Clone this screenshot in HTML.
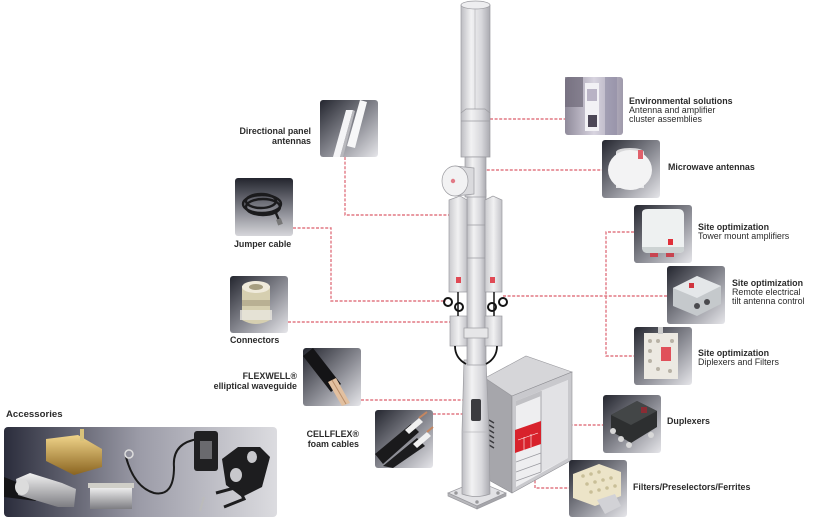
<!DOCTYPE html>
<html><head><meta charset="utf-8">
<style>
html,body{margin:0;padding:0;background:#fff;}
svg{display:block;}
text{font-family:"Liberation Sans",sans-serif;font-size:8.9px;fill:#2b2b2b;}
.b{font-weight:bold;}
</style></head><body>
<svg width="819" height="522" viewBox="0 0 819 522" xmlns="http://www.w3.org/2000/svg">
<defs>
<linearGradient id="tg" x1="0" y1="0" x2="1" y2="1">
<stop offset="0" stop-color="#24262f"/><stop offset="0.55" stop-color="#8c8d95"/><stop offset="1" stop-color="#e6e6ea"/>
</linearGradient>
<linearGradient id="tgv" x1="0" y1="0" x2="0" y2="1">
<stop offset="0" stop-color="#23252e"/><stop offset="0.6" stop-color="#8e8f97"/><stop offset="1" stop-color="#d6d6da"/>
</linearGradient>
<linearGradient id="env" x1="0" y1="0" x2="1" y2="0">
<stop offset="0" stop-color="#8f8a9a"/><stop offset="0.5" stop-color="#d8d4e0"/><stop offset="1" stop-color="#9f9aab"/>
</linearGradient>
<linearGradient id="acc" x1="0" y1="0" x2="1" y2="0">
<stop offset="0" stop-color="#2b2d3c"/><stop offset="0.5" stop-color="#9c9ca8"/><stop offset="1" stop-color="#dcdce0"/>
</linearGradient>
<linearGradient id="pole" x1="0" y1="0" x2="1" y2="0">
<stop offset="0" stop-color="#bdbdc2"/><stop offset="0.35" stop-color="#f2f2f3"/><stop offset="0.7" stop-color="#d8d8dc"/><stop offset="1" stop-color="#aaaab0"/>
</linearGradient>
<linearGradient id="panel" x1="0" y1="0" x2="1" y2="0">
<stop offset="0" stop-color="#cacace"/><stop offset="0.5" stop-color="#f1f1f2"/><stop offset="1" stop-color="#c2c2c7"/>
</linearGradient>
<linearGradient id="gold" x1="0" y1="0" x2="0" y2="1">
<stop offset="0" stop-color="#f0d48a"/><stop offset="1" stop-color="#8a6420"/>
</linearGradient>
<linearGradient id="silver" x1="0" y1="0" x2="0" y2="1">
<stop offset="0" stop-color="#f2f2f2"/><stop offset="1" stop-color="#7d7d82"/>
</linearGradient>
</defs>

<!-- ============ DOTTED CONNECTORS ============ -->
<g fill="none" stroke="#e27884" stroke-width="1.4" stroke-dasharray="3 1.6">
<path d="M345 157 V215 H456"/>
<path d="M293 228 H331 V301 H446"/>
<path d="M288 322 H451"/>
<path d="M361 400 H472"/>
<path d="M433 414 H473"/>
<path d="M490 119 H565"/>
<path d="M473 170 H602"/>
<path d="M503 296 H667"/>
<path d="M634 232 H606 V356 H634"/>
<path d="M542 425 H603"/>
<path d="M535 462 V488 H569"/>
</g>

<!-- ============ CABINET ============ -->
<g>
<polygon points="485,378 512,396 512,493 485,478" fill="#a6a6ab" stroke="#8a8a8f" stroke-width="0.6"/>
<polygon points="485,378 526,356 572,372 512,396" fill="#d6d6d9" stroke="#9a9a9f" stroke-width="0.6"/>
<polygon points="512,396 572,372 572,460 512,493" fill="#c9c9cd" stroke="#8f8f94" stroke-width="0.6"/>
<polygon points="516,401 568,380 568,458 516,487" fill="#eeeef0"/>
<polygon points="541,391 568,380 568,458 541,472" fill="#e2e2e5"/>
<line x1="541" y1="391" x2="541" y2="472" stroke="#a8a8ad" stroke-width="1"/>
<polygon points="516,401 541,391 541,396 516,406" fill="#c0c0c4"/>
<polygon points="515,430 541,421 541,444 515,453" fill="#d8222c"/>
<g stroke="#fff" stroke-width="0.6" fill="none"><line x1="518" y1="440" x2="538" y2="433"/><line x1="524" y1="437" x2="524" y2="450"/><line x1="531" y1="434" x2="531" y2="447"/></g>
<g stroke="#9a9aa0" stroke-width="0.7"><line x1="516" y1="462" x2="541" y2="453"/><line x1="516" y1="472" x2="541" y2="463"/><line x1="516" y1="481" x2="541" y2="472"/></g>
<g stroke="#3a3a3e" stroke-width="1.4"><line x1="489" y1="420" x2="494" y2="423"/><line x1="489" y1="425" x2="494" y2="428"/><line x1="489" y1="430" x2="494" y2="433"/><line x1="489" y1="435" x2="494" y2="438"/><line x1="489" y1="440" x2="494" y2="443"/><line x1="489" y1="445" x2="494" y2="448"/></g>
</g>

<!-- ============ TOWER ============ -->
<g stroke="#9b9ba0" stroke-width="0.7">
<polygon points="448,493 477,481 506,493 477,506" fill="#e2e2e5"/>
<polygon points="448,493 477,506 477,509 448,496" fill="#b8b8bc"/>
<polygon points="477,506 506,493 506,496 477,509" fill="#a5a5aa"/>
<circle cx="456" cy="493" r="1.4" fill="#999"/><circle cx="498" cy="493" r="1.4" fill="#999"/><circle cx="477" cy="502" r="1.4" fill="#999"/>
<path d="M462 432 L464 360 H486 L489 432 L490 494 Q476 499 462 494 Z" fill="url(#pole)"/>
<line x1="462" y1="432" x2="489" y2="432" stroke="#b8b8bc"/>
<rect x="471" y="399" width="10" height="22" rx="2" fill="#3c3c40" stroke="none"/>
<rect x="467" y="190" width="19" height="175" fill="url(#pole)"/>
<line x1="467" y1="225" x2="486" y2="225"/><line x1="467" y1="258" x2="486" y2="258"/>
<rect x="461" y="5" width="29" height="108" fill="url(#pole)"/>
<ellipse cx="475.5" cy="5" rx="14.5" ry="4" fill="#eeeef0"/>
<line x1="475" y1="9" x2="475" y2="112" stroke="#b5b5ba"/>
<path d="M461 113 L466 109 H485 L490 113 V157 H461 Z" fill="url(#pole)"/>
<line x1="461" y1="121" x2="490" y2="121"/>
<rect x="465" y="157" width="21" height="40" fill="url(#pole)"/>
<path d="M455 166 L474 168 L474 194 L455 196 Z" fill="#dadadd"/>
<ellipse cx="455" cy="181" rx="13" ry="15" fill="#f2f2f3"/>
<circle cx="453" cy="181" r="2.2" fill="#e27a86" stroke="none"/>
<polygon points="449,200 460,196 467,200 467,292 449,292" fill="url(#panel)"/>
<polygon points="485,200 493,196 502,200 502,292 485,292" fill="url(#panel)"/>
<rect x="456" y="277" width="5" height="6" fill="#e04a55" stroke="none"/>
<rect x="490" y="277" width="5" height="6" fill="#e04a55" stroke="none"/>
<rect x="450" y="316" width="17" height="30" fill="url(#panel)"/>
<rect x="485" y="316" width="17" height="30" fill="url(#panel)"/>
<rect x="464" y="328" width="24" height="10" fill="#e6e6e8"/>
</g>
<g fill="none" stroke="#141414" stroke-width="2">
<circle cx="448" cy="302" r="4"/><circle cx="459" cy="307" r="4"/>
<circle cx="492" cy="307" r="4"/><circle cx="503" cy="302" r="4"/>
<path d="M458 292 V316 M494 292 V316" stroke-width="1.5"/>
<path d="M455 346 Q455 358 466 364 M497 346 Q497 358 486 364" stroke-width="1.8"/>
</g>

<!-- ============ THUMBNAILS ============ -->
<g transform="translate(320,100)">
<rect width="58" height="57" rx="3" fill="url(#tg)"/>
<polygon points="13,57 20,57 33,10 26,10" fill="#f4f4f6"/>
<polygon points="27,46 35,48 47,2 40,0" fill="#f7f7f8"/>
<polygon points="20,57 23,57 35,11 33,10" fill="#b8b8bd"/>
</g>
<g transform="translate(235,178)">
<rect width="58" height="58" rx="3" fill="url(#tgv)"/>
<g fill="none" stroke="#1b1b1d" stroke-width="2.4">
<ellipse cx="27" cy="26" rx="19" ry="9"/><ellipse cx="28" cy="29" rx="17" ry="8"/><ellipse cx="26" cy="23" rx="15" ry="7"/>
<path d="M40 33 L44 42"/>
</g>
<rect x="42" y="41" width="5" height="6" fill="#777" transform="rotate(-20 44 44)"/>
</g>
<g transform="translate(230,276)">
<rect width="58" height="57" rx="3" fill="url(#tg)"/>
<path d="M12 10 H40 V44 Q26 52 12 44 Z" fill="#d6cfb0"/>
<ellipse cx="26" cy="11" rx="14" ry="6" fill="#efeadb"/>
<ellipse cx="26" cy="11" rx="7" ry="3" fill="#a69e80"/>
<rect x="12" y="24" width="28" height="6" fill="#b9b093"/>
<rect x="10" y="34" width="32" height="10" fill="#e8e6df" opacity="0.8"/>
</g>
<g transform="translate(303,348)">
<rect width="58" height="58" rx="3" fill="url(#tg)"/>
<path d="M0 8 L10 0 L38 36 L28 44 Z" fill="#141416"/>
<path d="M25 34 L33 30 L47 55 L39 58 Z" fill="#e2c0a0"/>
<path d="M29 32 L43 56" stroke="#b98e6a" stroke-width="1"/>
</g>
<g transform="translate(375,410)">
<rect width="58" height="58" rx="3" fill="url(#tg)"/>
<path d="M0 44 L36 14 L44 22 L8 54 Z" fill="#1a1a1c"/>
<path d="M8 56 L42 28 L50 36 L18 58 Z" fill="#1c1c1e"/>
<path d="M30 20 L44 8 L48 12 L34 24 Z" fill="#f1f1f1"/>
<path d="M38 34 L52 22 L56 26 L42 38 Z" fill="#f1f1f1"/>
<path d="M44 8 L52 2 M52 22 L58 17" stroke="#c58660" stroke-width="2"/>
</g>
<g transform="translate(565,77)">
<rect width="58" height="58" rx="3" fill="url(#env)"/>
<rect x="0" y="0" width="18" height="30" fill="#6e6878" opacity="0.7"/>
<rect x="20" y="6" width="14" height="48" fill="#f2f1f5"/>
<rect x="22" y="12" width="10" height="12" fill="#b9b3c5"/>
<rect x="23" y="38" width="9" height="12" fill="#4c4656"/>
<rect x="40" y="0" width="12" height="58" fill="#8e8aa3" opacity="0.6"/>
</g>
<g transform="translate(602,140)">
<rect width="58" height="58" rx="3" fill="url(#tg)"/>
<path d="M14 12 H42 V48 H14 Z" fill="#e8e8ea"/>
<ellipse cx="28" cy="12" rx="14" ry="4" fill="#d8d8da"/>
<ellipse cx="28" cy="30" rx="22" ry="20" fill="#f3f3f4"/>
<rect x="36" y="10" width="5" height="9" fill="#e0606b"/>
</g>
<g transform="translate(634,205)">
<rect width="58" height="58" rx="3" fill="url(#tg)"/>
<path d="M8 8 Q8 4 14 4 H44 Q50 4 50 10 V44 Q50 48 44 48 H14 Q8 48 8 42 Z" fill="#eef1f1"/>
<path d="M8 42 H50 V44 Q50 48 44 48 H14 Q8 48 8 42Z" fill="#cdd3d3"/>
<rect x="34" y="34" width="5" height="6" fill="#e0303a"/>
<rect x="16" y="48" width="8" height="4" fill="#c84450"/><rect x="32" y="48" width="8" height="4" fill="#c84450"/>
</g>
<g transform="translate(667,266)">
<rect width="58" height="58" rx="3" fill="url(#tg)"/>
<polygon points="6,22 30,10 54,20 54,38 30,50 6,40" fill="#c5c9cc"/>
<polygon points="6,22 30,10 54,20 30,32" fill="#e4e7e9"/>
<rect x="22" y="17" width="5" height="5" fill="#d0343e"/>
<circle cx="30" cy="40" r="3" fill="#4a4a4e"/><circle cx="40" cy="36" r="3" fill="#4a4a4e"/>
</g>
<g transform="translate(634,327)">
<rect width="58" height="58" rx="3" fill="url(#tg)"/>
<rect x="10" y="6" width="34" height="46" fill="#ece9e2"/>
<g fill="#b8b2a6"><circle cx="16" cy="14" r="2"/><circle cx="24" cy="14" r="2"/><circle cx="16" cy="24" r="2"/><circle cx="16" cy="34" r="2"/><circle cx="24" cy="42" r="2"/><circle cx="36" cy="44" r="2"/><circle cx="38" cy="14" r="2"/></g>
<rect x="27" y="20" width="10" height="14" fill="#e0505a"/>
<rect x="24" y="0" width="5" height="7" fill="#ccc"/>
</g>
<g transform="translate(603,395)">
<rect width="58" height="58" rx="3" fill="url(#tg)"/>
<polygon points="8,20 34,6 54,16 54,32 28,48 8,36" fill="#2d2f30"/>
<polygon points="8,20 34,6 54,16 28,30" fill="#434647"/>
<rect x="38" y="12" width="6" height="6" fill="#8a2c34"/>
<g fill="#d8d8d8"><circle cx="10" cy="36" r="3"/><circle cx="18" cy="44" r="3"/><circle cx="26" cy="50" r="3"/><circle cx="48" cy="40" r="3"/></g>
</g>
<g transform="translate(569,460)">
<rect width="58" height="57" rx="3" fill="url(#tg)"/>
<polygon points="4,14 30,4 52,12 52,36 26,46 4,38" fill="#ece4c8"/>
<g fill="#c9bf98"><circle cx="14" cy="16" r="1.8"/><circle cx="22" cy="14" r="1.8"/><circle cx="30" cy="12" r="1.8"/><circle cx="18" cy="24" r="1.8"/><circle cx="26" cy="22" r="1.8"/><circle cx="34" cy="20" r="1.8"/><circle cx="42" cy="18" r="1.8"/><circle cx="22" cy="32" r="1.8"/><circle cx="30" cy="30" r="1.8"/><circle cx="38" cy="28" r="1.8"/><circle cx="46" cy="26" r="1.8"/></g>
<polygon points="28,40 46,34 52,46 36,54" fill="#d2d2d6"/>
</g>

<g transform="translate(4,427)">
<rect width="273" height="90" rx="4" fill="url(#acc)"/>
<path d="M0 50 L30 62 L32 74 L0 70 Z" fill="#151517"/>
<polygon points="42,12 74,8 98,22 98,40 70,48 42,34" fill="url(#gold)"/>
<rect x="76" y="2" width="4" height="12" fill="#d8c27a"/>
<polygon points="12,52 26,46 58,56 72,62 70,80 54,80 14,68" fill="url(#silver)"/>
<ellipse cx="18" cy="60" rx="7" ry="8" fill="#dcdcdc"/>
<rect x="86" y="60" width="42" height="22" fill="url(#silver)"/>
<rect x="84" y="56" width="46" height="5" fill="#d0cfc8"/>
<path d="M122 30 Q130 60 150 66 Q170 70 170 40 Q168 16 194 12" fill="none" stroke="#1a1a1a" stroke-width="2"/>
<circle cx="125" cy="27" r="4" fill="none" stroke="#ddd" stroke-width="1.5"/>
<rect x="190" y="4" width="24" height="40" rx="3" fill="#202022"/>
<rect x="196" y="14" width="12" height="18" fill="#6a6a6e"/>
<path d="M218 32 L234 20 L256 20 L266 30 L258 60 L238 70 L222 58 Z" fill="#1d1d1f"/>
<ellipse cx="232" cy="48" rx="6" ry="7" fill="#c8c8cc"/><ellipse cx="248" cy="30" rx="5" ry="6" fill="#c8c8cc"/>
<path d="M212 66 L234 60 L240 72 L220 80" fill="none" stroke="#1d1d1f" stroke-width="3"/>
<line x1="200" y1="70" x2="196" y2="84" stroke="#bbb" stroke-width="2"/>
</g>

<!-- ============ LABELS ============ -->
<text x="311" y="134" text-anchor="end" class="b">Directional panel</text>
<text x="311" y="144" text-anchor="end" class="b">antennas</text>
<text x="234" y="247" class="b">Jumper cable</text>
<text x="230" y="343" class="b">Connectors</text>
<text x="297" y="379" text-anchor="end" class="b">FLEXWELL®</text>
<text x="297" y="389" text-anchor="end" class="b">elliptical waveguide</text>
<text x="359" y="437" text-anchor="end" class="b">CELLFLEX®</text>
<text x="359" y="447" text-anchor="end" class="b">foam cables</text>
<text x="6" y="417" class="b" style="font-size:9.6px">Accessories</text>

<text x="629" y="104" class="b">Environmental solutions</text>
<text x="629" y="113">Antenna and amplifier</text>
<text x="629" y="122">cluster assemblies</text>
<text x="668" y="170" class="b">Microwave antennas</text>
<text x="698" y="230" class="b">Site optimization</text>
<text x="698" y="239">Tower mount amplifiers</text>
<text x="732" y="286" class="b">Site optimization</text>
<text x="732" y="295">Remote electrical</text>
<text x="732" y="304">tilt antenna control</text>
<text x="698" y="356" class="b">Site optimization</text>
<text x="698" y="365">Diplexers and Filters</text>
<text x="667" y="424" class="b">Duplexers</text>
<text x="633" y="490" class="b">Filters/Preselectors/Ferrites</text>
</svg>
</body></html>
